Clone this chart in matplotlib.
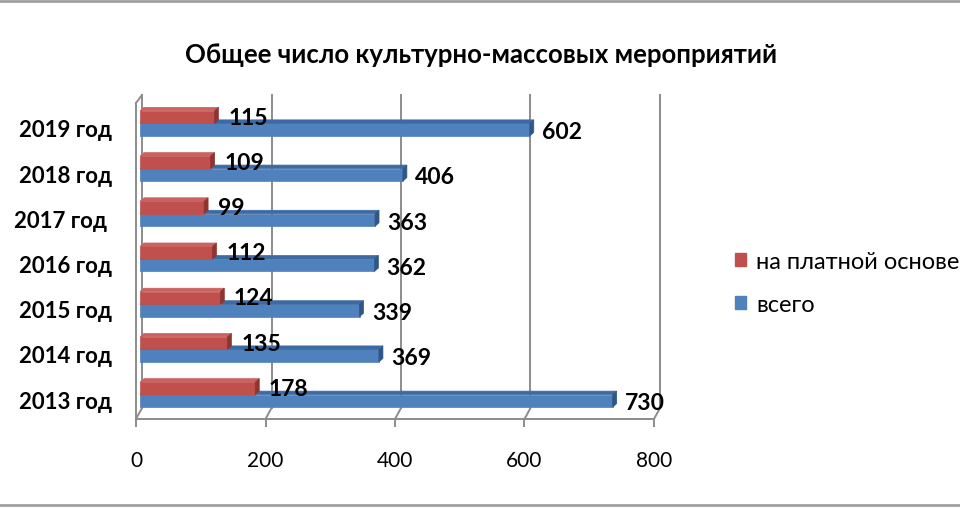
import matplotlib.pyplot as plt
from matplotlib.patches import Polygon, Patch
from matplotlib.lines import Line2D

plt.rcParams['font.family'] = ['Lato', 'DejaVu Sans']

years = ["2013 год", "2014 год", "2015 год", "2016 год", "2017 год ", "2018 год", "2019 год"]
paid = [178, 135, 124, 112, 99, 109, 115]
total = [730, 369, 339, 362, 363, 406, 602]
xticks = [0, 200, 400, 600, 800]

title = "Общее число культурно-массовых мероприятий"
paid_name = "на платной основе"
total_name = "всего"

RED = "#C0504D"
RED_TOP = "#CB625F"
RED_SIDE = "#8E3431"
BLUE = "#4F81BD"
BLUE_TOP = "#3D6AA3"
BLUE_SIDE = "#2F5686"
GRID = "#8C8C8C"

W, H = 960, 510
fig = plt.figure(figsize=(W / 100, H / 100), dpi=100)
ax_l, ax_b, ax_w, ax_h = 136, 90, 518, 316
ax = fig.add_axes([ax_l / W, ax_b / H, ax_w / W, ax_h / H])

ylo, yhi = -0.44, 6.55
ax.set_xlim(0, 800)
ax.set_ylim(ylo, yhi)

# pixel -> data helpers
px_x = 800 / ax_w
px_y = (yhi - ylo) / ax_h


def dx(p):
    return p * px_x


def dy(p):
    return p * px_y


# back wall gridlines and floor diagonals
wall_dx = dx(6)
back_bottom = ylo + dy(11)
back_top = yhi + dy(8)
for t in xticks:
    ax.plot([t + wall_dx, t + wall_dx], [back_bottom, back_top], color=GRID,
            lw=1.4, clip_on=False, zorder=1)
    ax.plot([t, t + wall_dx], [ylo, back_bottom], color=GRID, lw=1.4,
            clip_on=False, zorder=1)
ax.plot([0, wall_dx], [yhi, back_top], color=GRID, lw=1.4, clip_on=False, zorder=1)

# 3D bars
bar_off_x = dx(4)
bar_off_y = dy(4.5)
depth_x = dx(4)
depth_y = dy(3.5)
bh = dy(12.5)


def bar3d(y0, v, front, top, side, z):
    x0 = bar_off_x
    x1 = bar_off_x + v
    y1 = y0 + bh
    ax.add_patch(Polygon([(x0, y0), (x1, y0), (x1, y1), (x0, y1)], closed=True,
                         facecolor=front, edgecolor=front, lw=0.5, zorder=z))
    ax.add_patch(Polygon([(x0, y1), (x1, y1), (x1 + depth_x, y1 + depth_y),
                          (x0 + depth_x, y1 + depth_y)], closed=True,
                         facecolor=top, edgecolor=top, lw=0.5, zorder=z))
    ax.add_patch(Polygon([(x1, y0), (x1 + depth_x, y0 + depth_y),
                          (x1 + depth_x, y1 + depth_y), (x1, y1)], closed=True,
                         facecolor=side, edgecolor=side, lw=0.5, zorder=z))
    return x1 + depth_x, y0 + bh / 2


for i in range(len(years)):
    c = i + bar_off_y
    bx, by = bar3d(c - bh, total[i], BLUE, BLUE_TOP, BLUE_SIDE, 3 + i * 2)
    rx, ry = bar3d(c, paid[i], RED, RED_TOP, RED_SIDE, 4 + i * 2)
    ax.annotate(str(total[i]), xy=(bx, by), xytext=(6, -1.5), textcoords="offset points",
                ha="left", va="center", fontsize=16.5, fontweight="bold", zorder=30,
                annotation_clip=False)
    ax.annotate(str(paid[i]), xy=(rx, ry), xytext=(7, 0), textcoords="offset points",
                ha="left", va="center", fontsize=16.5, fontweight="bold", zorder=30,
                annotation_clip=False)

# axes
for s in ["top", "right"]:
    ax.spines[s].set_visible(False)
for s in ["left", "bottom"]:
    ax.spines[s].set_color(GRID)
    ax.spines[s].set_linewidth(1.4)
ax.set_xticks(xticks)
ax.set_xticklabels([str(t) for t in xticks], fontsize=15)
ax.tick_params(axis="x", length=6, width=1.4, color=GRID, pad=16)
ax.set_yticks(range(len(years)))
ax.set_yticklabels(years, fontsize=16, fontweight="bold")
ax.tick_params(axis="y", length=0, pad=17)
ax.set_facecolor("none")

fig.text(481 / W, 1 - 55 / H, title, ha="center", va="center", fontsize=18.5,
         fontweight="bold")

handles = [Patch(facecolor=RED, edgecolor=RED), Patch(facecolor=BLUE, edgecolor=BLUE)]
fig.legend(handles, [paid_name, total_name], loc="center left",
           bbox_to_anchor=(735 / W, 1 - 284 / H), frameon=False, fontsize=17,
           handlelength=0.45, handleheight=0.45, handletextpad=0.45, labelspacing=0.95,
           borderpad=0, borderaxespad=0)

# frame lines top and bottom
fig.add_artist(Line2D([0, 1], [1 - 2 / H, 1 - 2 / H], color="#A0A0A0", lw=2))
fig.add_artist(Line2D([0, 1], [1 - 506 / H, 1 - 506 / H], color="#A0A0A0", lw=2))

fig.savefig("out.png", dpi=100)
